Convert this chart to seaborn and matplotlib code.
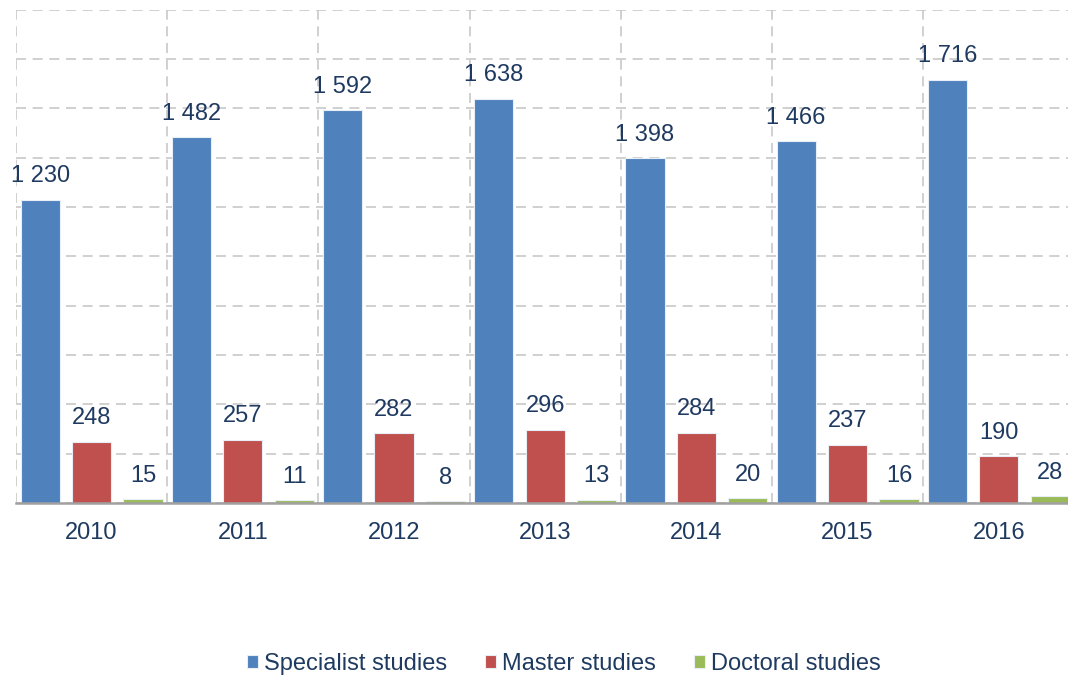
import matplotlib.pyplot as plt
import pandas as pd
import seaborn as sns
from matplotlib.ticker import FixedLocator, MultipleLocator

# Data
years = ["2010", "2011", "2012", "2013", "2014", "2015", "2016"]
specialist = [1230, 1482, 1592, 1638, 1398, 1466, 1716]
master = [248, 257, 282, 296, 284, 237, 190]
doctoral = [15, 11, 8, 13, 20, 16, 28]
series = ["Specialist studies", "Master studies", "Doctoral studies"]
colors = ["#4F81BD", "#C0504D", "#9BBB59"]

data = pd.DataFrame({
    "year": years * 3,
    "value": specialist + master + doctoral,
    "series": [series[0]] * 7 + [series[1]] * 7 + [series[2]] * 7,
})

text_color = "#1F3A60"
fs = 17

sns.set_theme(style="white")
plt.rcParams["font.family"] = ["Liberation Sans", "DejaVu Sans"]

fig = plt.figure(figsize=(10.68, 6.8), dpi=100)
ax = fig.add_axes([0.015, 0.2603, 0.985, 0.7256])

sns.barplot(
    data=data,
    x="year",
    y="value",
    hue="series",
    palette=colors,
    width=1.02,
    gap=0.24,
    edgecolor="#E8EEF6",
    linewidth=0.8,
    saturation=1,
    legend=False,
    ax=ax,
)

# Value labels with space as thousands separator
for container, vals in zip(ax.containers, [specialist, master, doctoral]):
    labels = [f"{v:,}".replace(",", " ") for v in vals]
    ax.bar_label(container, labels=labels, padding=9, fontsize=fs, color=text_color)

ax.set_ylim(0, 2000)
ax.set_xlim(-0.5, 6.458)
ax.yaxis.set_major_locator(MultipleLocator(200))
ax.set_yticklabels([])
ax.tick_params(axis="y", length=0)
ax.xaxis.set_minor_locator(FixedLocator([i - 0.5 for i in range(8)]))
ax.grid(axis="y", which="major", color="#C8C8C8", linestyle=(0, (6, 4)), linewidth=1.2)
ax.grid(axis="x", which="minor", color="#C8C8C8", linestyle=(0, (6, 4)), linewidth=1.2)
ax.tick_params(axis="x", which="both", length=0, pad=14, labelsize=fs, labelcolor=text_color)
ax.set_xlabel("")
ax.set_ylabel("")

for side in ["top", "right", "left"]:
    ax.spines[side].set_visible(False)
ax.spines["bottom"].set_color("#A0A0A0")
ax.spines["bottom"].set_linewidth(1.8)
ax.spines["bottom"].set_zorder(5)

fig.legend(
    ax.containers,
    series,
    loc="center",
    bbox_to_anchor=(0.528, 0.023),
    ncol=3,
    frameon=False,
    fontsize=fs,
    labelcolor=text_color,
    handlelength=0.47,
    handleheight=0.47,
    handletextpad=0.25,
    columnspacing=1.6,
)

plt.savefig("out.png", dpi=100)
plt.close()
